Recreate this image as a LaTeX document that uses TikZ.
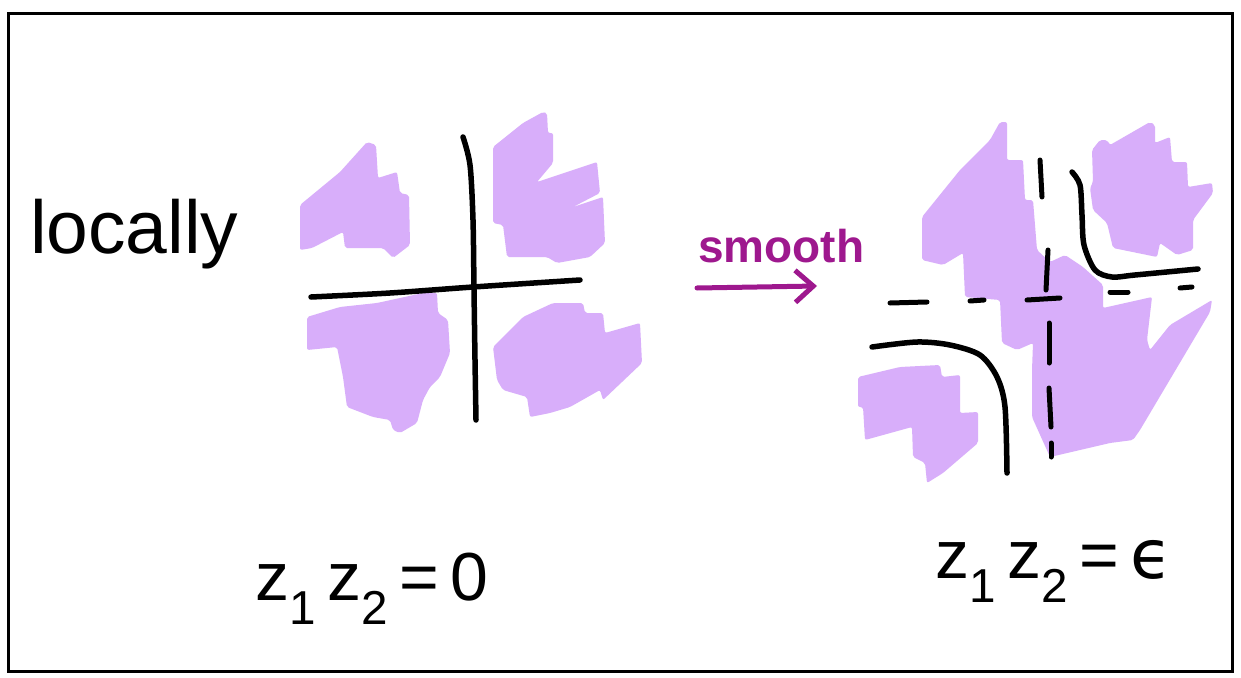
\documentclass[tikz,border=0pt]{standalone}
\usepackage{fontspec}
\setmainfont{Liberation Sans}
\newfontfamily\dvsans{DejaVu Sans}
\usetikzlibrary{arrows.meta}
\definecolor{lav}{RGB}{216,174,250}
\definecolor{plum}{RGB}{158,24,142}
\tikzset{
  blob/.style={fill=lav, draw=none, rounded corners=2pt},
  ink/.style={line width=5.5pt, line cap=round, line join=round, black},
  dashpiece/.style={line width=5pt, line cap=round, black},
  label/.style={inner sep=0pt, outer sep=0pt, font=\fontsize{68}{72}\selectfont}
}
\begin{document}
\begin{tikzpicture}[x=1pt,y=-1pt]
\useasboundingbox (0,0) rectangle (1241,677);
\fill[white] (0,0) rectangle (1241,677);
\draw[line width=3pt] (8,14) rectangle (1232,671);

% ---- left picture: blobs
\fill[blob] (300,205) -- (340,172) -- (367,142) -- (376,145) -- (378,178) -- (397,172) -- (400,193) -- (409,195) -- (410,245) -- (393,258) -- (383,248) -- (345,248) -- (343,232) -- (312,248) -- (300,250) -- cycle;
\fill[blob] (493,147) -- (523,123) -- (543,112) -- (547,113) -- (548,133) -- (553,133) -- (553,163) -- (537,182) -- (597,162) -- (600,193) -- (573,207) -- (603,197) -- (605,243) -- (590,257) -- (557,263) -- (547,257) -- (507,257) -- (503,225) -- (493,223) -- cycle;
\fill[blob] (307,317) -- (340,307) -- (377,303) -- (423,293) -- (437,293) -- (438,313) -- (448,320) -- (450,353) -- (440,377) -- (430,387) -- (423,400) -- (417,423) -- (400,433) -- (393,430) -- (390,420) -- (373,417) -- (347,407) -- (343,377) -- (337,347) -- (307,350) -- cycle;
\fill[blob] (493,347) -- (523,317) -- (553,303) -- (583,303) -- (585,313) -- (603,313) -- (605,333) -- (640,323) -- (642,363) -- (603,400) -- (600,390) -- (570,407) -- (550,413) -- (530,417) -- (527,397) -- (503,390) -- (497,380) -- cycle;

% ---- left picture: axes
\draw[ink] plot[smooth] coordinates {(463,137) (470,165) (473,220) (474,290) (475,360) (476,420)};
\draw[ink] plot[smooth] coordinates {(311,297) (390,293) (473,287) (580,280)};

% ---- right picture: blobs
\fill[blob] (922,217) -- (960,170) -- (990,140) -- (1000,122) -- (1007,122) -- (1007,160) -- (1023,160) -- (1025,200) -- (1033,200) -- (1037,250) -- (1050,262) -- (1065,255) -- (1083,267) -- (1103,285) -- (1103,308) -- (1152,297) -- (1147,340) -- (1150,350) -- (1170,325) -- (1212,300) -- (1210,312) -- (1140,430) -- (1133,440) -- (1110,443) -- (1050,457) -- (1032,417) -- (1032,370) -- (1033,343) -- (1017,350) -- (1002,343) -- (1000,300) -- (965,297) -- (963,253) -- (943,265) -- (922,260) -- cycle;
\fill[blob] (1092,150) -- (1100,140) -- (1107,140) -- (1110,145) -- (1150,122) -- (1155,125) -- (1155,143) -- (1170,137) -- (1172,162) -- (1187,162) -- (1188,187) -- (1212,183) -- (1213,193) -- (1193,220) -- (1193,250) -- (1177,255) -- (1160,243) -- (1157,257) -- (1113,248) -- (1107,223) -- (1093,210) -- (1090,188) -- (1093,182) -- cycle;
\fill[blob] (858,377) -- (900,367) -- (940,365) -- (942,377) -- (960,375) -- (960,413) -- (978,412) -- (978,443) -- (943,473) -- (927,483) -- (925,463) -- (913,457) -- (912,427) -- (865,440) -- (863,407) -- (858,407) -- cycle;

% ---- right picture: dashed axes
\draw[dashpiece] (890,303) -- (927,302);
\draw[dashpiece] (970,301) -- (984,300);
\draw[dashpiece] (1027,300) -- (1060,298);
\draw[dashpiece] (1110,292) -- (1128,292);
\draw[dashpiece] (1180,288) -- (1192,287);
\draw[dashpiece] (1040,160) -- (1042,197);
\draw[dashpiece] (1048,250) -- (1046,290);
\draw[dashpiece] (1049,323) -- (1049,363);
\draw[dashpiece] (1049,388) -- (1051,427);
\draw[dashpiece] (1051,443) -- (1051,457);

% ---- right picture: hyperbola branches
\draw[ink] plot[smooth] coordinates {(872,347) (917,342) (950,345) (980,355) (997,377) (1005,407) (1007,473)};
\draw[ink] plot[smooth] coordinates {(1072,172) (1080,185) (1082,215) (1084,245) (1095,270) (1112,277) (1135,275) (1198,269)};

% ---- texts
\node[label, anchor=base west, font=\fontsize{75}{80}\selectfont] (locally) at (30,253) {locally};
\node[label, anchor=base west, text=plum, font=\bfseries\fontsize{46}{50}\selectfont] (smooth) at (698,262) {smooth};
\node[label, anchor=base west] (eqL) at (255,600) {z\textsubscript{1}\,z\textsubscript{2}\,=\,0};
\node[label, anchor=base west] (eqR) at (935,578) {z\textsubscript{1}\,z\textsubscript{2}\,=\,{\dvsans ϵ}};

% ---- arrow
\coordinate (arrS) at (697,288);
\coordinate (arrE) at (817,286);
\draw[line width=5pt, plum, line cap=round, -{Straight Barb[length=18pt,width=32pt,line width=5pt]}] (arrS) -- (arrE);
\end{tikzpicture}
\end{document}
